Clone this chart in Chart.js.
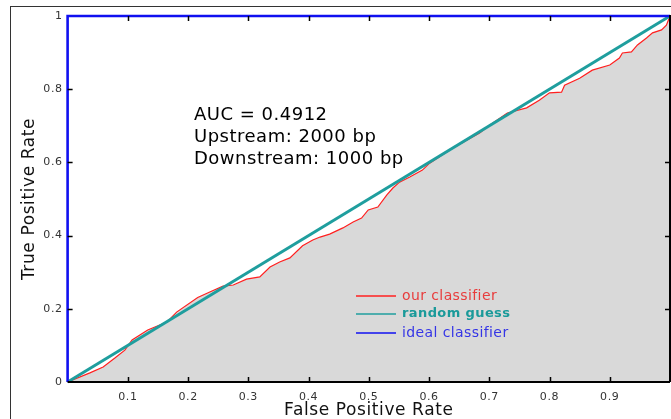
<!DOCTYPE html>
<html lang="en">
<head>
  <meta charset="UTF-8" />
  <title>ROC curve</title>
  <script src="https://cdn.jsdelivr.net/npm/chart.js"></script>
  <style>
    body { margin: 0; background: #fff; }
    #wrap { width: 671px; height: 419px; }
  </style>
</head>
<body>
<div id="wrap"><canvas id="roc" width="671" height="419"></canvas></div>
<script>
  // ROC points
  const fpr = [0, 0.037, 0.059, 0.079, 0.095, 0.107, 0.133, 0.165, 0.181, 0.216, 0.236, 0.258, 0.275,
    0.297, 0.319, 0.336, 0.352, 0.369, 0.39, 0.407, 0.419, 0.435, 0.457, 0.474, 0.488, 0.499, 0.515,
    0.53, 0.54, 0.551, 0.568, 0.589, 0.601, 0.639, 0.684, 0.701, 0.73, 0.762, 0.783, 0.8, 0.82, 0.825,
    0.85, 0.871, 0.9, 0.916, 0.921, 0.936, 0.946, 0.961, 0.971, 0.986, 0.994, 1];
  const tpr = [0, 0.025, 0.041, 0.066, 0.087, 0.115, 0.142, 0.164, 0.191, 0.231, 0.246, 0.262, 0.265,
    0.281, 0.287, 0.314, 0.328, 0.339, 0.372, 0.388, 0.396, 0.404, 0.421, 0.437, 0.448, 0.47, 0.478,
    0.511, 0.53, 0.546, 0.56, 0.579, 0.598, 0.639, 0.68, 0.702, 0.735, 0.749, 0.77, 0.79, 0.792, 0.811,
    0.83, 0.852, 0.866, 0.885, 0.899, 0.902, 0.921, 0.94, 0.954, 0.962, 0.975, 1];
  const randomX = [0, 1];
  const randomY = [0, 1];
  const idealX = [0, 0, 1];
  const idealY = [0, 1, 1];
  const seriesNames = ['our classifier', 'random guess', 'ideal classifier'];
  const seriesColors = ['#ff2020', '#1f9e9e', '#1010f0'];
  const legendColors = ['#e83c3c', '#1a9a9a', '#3535e6'];
  const xTicks = [0.1, 0.2, 0.3, 0.4, 0.5, 0.6, 0.7, 0.8, 0.9];
  const yTicks = [0, 0.2, 0.4, 0.6, 0.8, 1];
  const notes = ['AUC = 0.4912', 'Upstream: 2000 bp', 'Downstream: 1000 bp'];

  const pts = (xs, ys) => xs.map((x, i) => ({ x: x, y: ys[i] }));

  // frame, black axes, inner ticks, legend and text
  const deco = {
    id: 'deco',
    beforeDraw(chart) {
      const c = chart.ctx;
      c.save();
      c.fillStyle = '#fff';
      c.fillRect(0, 0, chart.width, chart.height);
      c.strokeStyle = '#333';
      c.lineWidth = 1;
      c.strokeRect(10.5, 6.5, 700, 500);
      c.restore();
      // the old plot uses slightly spaced lettering everywhere
      c.letterSpacing = '0.6px';
    },
    afterDraw(chart) {
      const c = chart.ctx;
      const a = chart.chartArea;
      const xs = chart.scales.x, ys = chart.scales.y;
      c.save();
      c.strokeStyle = '#000';
      c.lineWidth = 2;
      c.beginPath();
      c.moveTo(a.left, a.bottom); c.lineTo(a.right, a.bottom);
      c.moveTo(a.right, a.bottom); c.lineTo(a.right, a.top - 1);
      c.stroke();
      c.lineWidth = 1.5;
      c.beginPath();
      xTicks.forEach(v => {
        const px = Math.round(xs.getPixelForValue(v)) + 0.5;
        c.moveTo(px, a.bottom); c.lineTo(px, a.bottom - 5);
        c.moveTo(px, a.top); c.lineTo(px, a.top + 5);
      });
      yTicks.slice(1, -1).forEach(v => {
        const py = Math.round(ys.getPixelForValue(v)) + 0.5;
        c.moveTo(a.left, py); c.lineTo(a.left + 5, py);
        c.moveTo(a.right, py); c.lineTo(a.right - 5, py);
      });
      c.stroke();

      // legend
      c.textBaseline = 'middle';
      c.letterSpacing = '0.4px';
      const rows = [296, 314, 333];
      seriesNames.forEach((n, i) => {
        c.strokeStyle = seriesColors[i];
        c.lineWidth = 1.5;
        c.beginPath();
        c.moveTo(356, rows[i]); c.lineTo(396, rows[i]);
        c.stroke();
        c.fillStyle = legendColors[i];
        c.font = (i === 1 ? 'bold 13px' : '14px') + ' "DejaVu Sans"';
        c.fillText(n, 402, rows[i]);
      });

      // annotation
      c.fillStyle = '#000';
      c.letterSpacing = '0.5px';
      c.font = '18px "DejaVu Sans"';
      notes.forEach((t, i) => c.fillText(t, 194, 115 + i * 22));
      c.restore();
    }
  };

  new Chart(document.getElementById('roc'), {
    type: 'line',
    data: {
      datasets: [
        {
          label: seriesNames[2], data: pts(idealX, idealY),
          borderColor: seriesColors[2], borderWidth: 2.6, pointRadius: 0,
          fill: false, clip: 4, order: 0
        },
        {
          label: seriesNames[1], data: pts(randomX, randomY),
          borderColor: seriesColors[1], borderWidth: 3, pointRadius: 0,
          fill: false, clip: 4, order: 1
        },
        {
          label: seriesNames[0], data: pts(fpr, tpr),
          borderColor: seriesColors[0], borderWidth: 1.2, pointRadius: 0,
          backgroundColor: '#d9d9d9', fill: 'origin', order: 2
        }
      ]
    },
    options: {
      responsive: false,
      animation: false,
      layout: { padding: { left: 10, top: 16, right: 1, bottom: 0 } },
      plugins: { legend: { display: false }, tooltip: { enabled: false } },
      scales: {
        x: {
          type: 'linear', min: 0, max: 1,
          grid: { display: false, drawTicks: false },
          border: { display: false },
          afterBuildTicks: s => { s.ticks = xTicks.map(v => ({ value: v })); },
          afterFit: s => { s.height = 37; },
          ticks: {
            padding: 9, color: '#333', maxRotation: 0, autoSkip: false,
            font: { family: 'DejaVu Sans', size: 11 },
            callback: v => String(v)
          },
          title: {
            display: true, text: 'False Positive Rate', color: '#111',
            font: { family: 'DejaVu Sans', size: 17, lineHeight: 1 },
            padding: { top: 0, bottom: 0 }
          }
        },
        y: {
          type: 'linear', min: 0, max: 1,
          grid: { display: false, drawTicks: false },
          border: { display: false },
          afterBuildTicks: s => { s.ticks = yTicks.map(v => ({ value: v })); },
          afterFit: s => { s.width = 57.6; },
          ticks: {
            padding: 5, color: '#333', autoSkip: false,
            font: { family: 'DejaVu Sans', size: 11 },
            callback: v => String(v)
          },
          title: {
            display: true, text: 'True Positive Rate', color: '#111',
            font: { family: 'DejaVu Sans', size: 17, lineHeight: 1 },
            padding: { top: 11, bottom: 0 }
          }
        }
      }
    },
    plugins: [deco]
  });
</script>
</body>
</html>
